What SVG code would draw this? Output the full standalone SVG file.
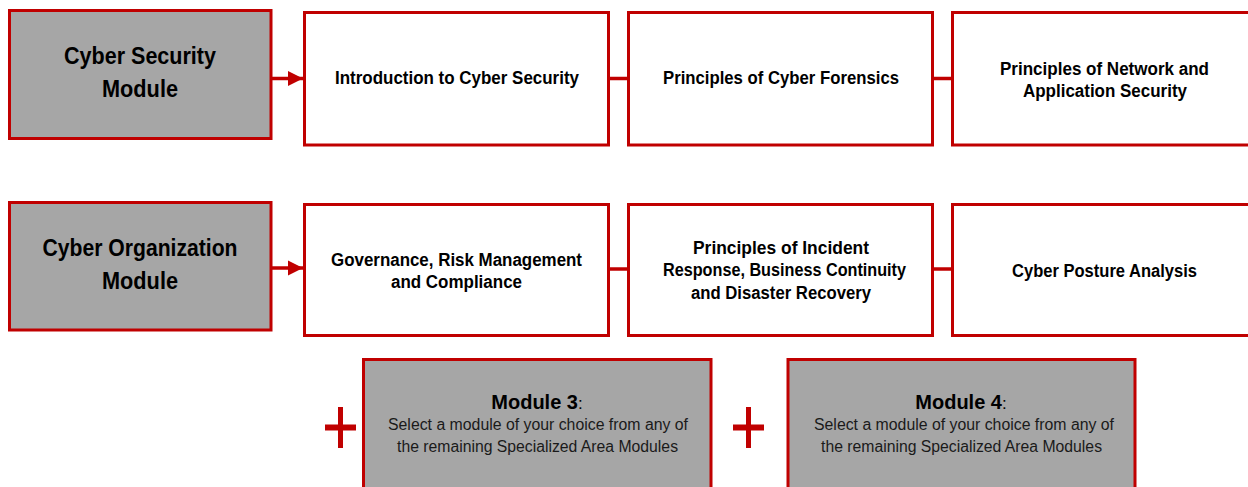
<svg xmlns="http://www.w3.org/2000/svg" width="1248" height="487" viewBox="0 0 1248 487">
<style>
.g{fill:#a6a6a6;stroke:#c00000;stroke-width:3}
.w{fill:#ffffff;stroke:#c00000;stroke-width:3}
.c{stroke:#c00000;stroke-width:3.5;fill:none}
text{font-family:"Liberation Sans",Arial,sans-serif;fill:#000;text-anchor:middle}
.t{font-size:23.5px;font-weight:bold}
.b{font-size:17.5px;font-weight:bold}
.h{font-size:20px;font-weight:bold}
.r{font-size:16px;fill:#1a1a1a}
.plus{fill:#c00000}
</style>
<defs>
<marker id="ah" viewBox="0 0 10 10" refX="10" refY="5" markerWidth="4.3" markerHeight="4.5" orient="auto" markerUnits="strokeWidth">
<path d="M0,0 L10,5 L0,10 z" fill="#c00000"/>
</marker>
</defs>
<rect width="1248" height="487" fill="#ffffff"/>
<g id="connectors">
<line class="c" x1="271" y1="78.5" x2="303" y2="78.5" marker-end="url(#ah)"/>
<line class="c" x1="608" y1="78.5" x2="628" y2="78.5"/>
<line class="c" x1="932" y1="78.5" x2="952" y2="78.5"/>
<line class="c" x1="271" y1="268" x2="303" y2="268" marker-end="url(#ah)"/>
<line class="c" x1="608" y1="269" x2="628" y2="269"/>
<line class="c" x1="932" y1="269" x2="952" y2="269"/>
</g>
<g id="cyber-security-module">
<rect class="g" x="9.5" y="10.5" width="261.5" height="128"/>
<text class="t" x="140" y="64" textLength="152" lengthAdjust="spacingAndGlyphs">Cyber Security</text>
<text class="t" x="140" y="97" textLength="76" lengthAdjust="spacingAndGlyphs">Module</text>
</g>
<g id="intro-cyber-security">
<rect class="w" x="304.5" y="12.5" width="304" height="132.5"/>
<text class="b" x="457" y="84" textLength="244" lengthAdjust="spacingAndGlyphs">Introduction to Cyber Security</text>
</g>
<g id="cyber-forensics">
<rect class="w" x="628.5" y="12.5" width="304" height="132.5"/>
<text class="b" x="781" y="84" textLength="236" lengthAdjust="spacingAndGlyphs">Principles of Cyber Forensics</text>
</g>
<g id="network-app-security">
<rect class="w" x="952.5" y="12.5" width="304" height="132.5"/>
<text class="b" x="1104.5" y="74.5" textLength="209" lengthAdjust="spacingAndGlyphs">Principles of Network and</text>
<text class="b" x="1105" y="96.5" textLength="164" lengthAdjust="spacingAndGlyphs">Application Security</text>
</g>
<g id="cyber-organization-module">
<rect class="g" x="9.5" y="202.5" width="261.5" height="127.5"/>
<text class="t" x="140" y="256" textLength="195" lengthAdjust="spacingAndGlyphs">Cyber Organization</text>
<text class="t" x="140" y="289" textLength="76" lengthAdjust="spacingAndGlyphs">Module</text>
</g>
<g id="governance">
<rect class="w" x="304.5" y="204.5" width="304" height="131"/>
<text class="b" x="456.5" y="265.5" textLength="251" lengthAdjust="spacingAndGlyphs">Governance, Risk Management</text>
<text class="b" x="456.5" y="287.5" textLength="131" lengthAdjust="spacingAndGlyphs">and Compliance</text>
</g>
<g id="incident-response">
<rect class="w" x="628.5" y="204.5" width="304" height="131"/>
<text class="b" x="781" y="253.5" textLength="176" lengthAdjust="spacingAndGlyphs">Principles of Incident</text>
<text class="b" x="784.5" y="276" textLength="243" lengthAdjust="spacingAndGlyphs">Response, Business Continuity</text>
<text class="b" x="781" y="298.5" textLength="180" lengthAdjust="spacingAndGlyphs">and Disaster Recovery</text>
</g>
<g id="cyber-posture">
<rect class="w" x="952.5" y="204.5" width="304" height="131"/>
<text class="b" x="1104.5" y="276.5" textLength="185" lengthAdjust="spacingAndGlyphs">Cyber Posture Analysis</text>
</g>
<g id="plus-1">
<rect class="plus" x="338" y="407" width="5" height="41"/>
<rect class="plus" x="325" y="424.5" width="31" height="6"/>
</g>
<g id="module-3">
<rect class="g" x="363.5" y="359.5" width="347.5" height="140"/>
<text x="537" y="409"><tspan class="h">Module 3</tspan><tspan class="r" style="font-size:17px;fill:#000">:</tspan></text>
<text class="r" x="538" y="430" textLength="300" lengthAdjust="spacingAndGlyphs">Select a module of your choice from any of</text>
<text class="r" x="537.5" y="452" textLength="281" lengthAdjust="spacingAndGlyphs">the remaining Specialized Area Modules</text>
</g>
<g id="plus-2">
<rect class="plus" x="746" y="407" width="5" height="41"/>
<rect class="plus" x="733" y="424.5" width="31" height="6"/>
</g>
<g id="module-4">
<rect class="g" x="788" y="359.5" width="347" height="140"/>
<text x="961" y="409"><tspan class="h">Module 4</tspan><tspan class="r" style="font-size:17px;fill:#000">:</tspan></text>
<text class="r" x="964" y="430" textLength="300" lengthAdjust="spacingAndGlyphs">Select a module of your choice from any of</text>
<text class="r" x="961.5" y="452" textLength="281" lengthAdjust="spacingAndGlyphs">the remaining Specialized Area Modules</text>
</g>
</svg>
